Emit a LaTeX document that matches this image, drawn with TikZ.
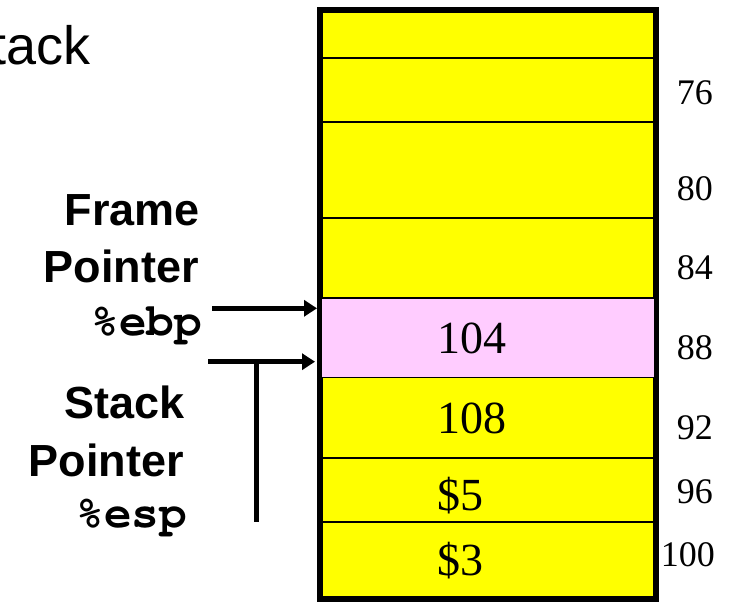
\documentclass[tikz,border=0pt]{standalone}
\usepackage{fontspec}
\setmainfont{Liberation Serif}
\newfontfamily\arialfont{Liberation Sans}
\newfontfamily\courfont{TeX Gyre Cursor}
\usetikzlibrary{arrows.meta}
\definecolor{stackyellow}{RGB}{255,255,0}
\definecolor{stackpink}{RGB}{255,204,255}
\tikzset{
  thinline/.style={line width=1.7pt},
  outerbox/.style={line width=6pt},
  cellval/.style={inner sep=0pt, anchor=base west, font=\fontsize{46}{46}\selectfont},
  addr/.style={inner sep=0pt, anchor=base east, font=\fontsize{36}{36}\selectfont},
  lbl/.style={inner sep=0pt, anchor=base east, font=\arialfont\bfseries\fontsize{45}{45}\selectfont},
  reglbl/.style={inner sep=0pt, anchor=base east, font=\courfont\bfseries\fontsize{46}{46}\selectfont},
  ptrarrow/.style={line width=5pt, -{Triangle[length=13pt,width=16pt]}},
  ptrline/.style={line width=5pt},
}
\begin{document}
\begin{tikzpicture}[x=1pt,y=-1pt]
\useasboundingbox (0,0) rectangle (731,602);
% title (cut off)
\node[inner sep=0pt, anchor=base east, font=\arialfont\fontsize{54}{54}\selectfont] (title) at (91,65) {Stack};
% stack body
\fill[stackyellow] (320,10) rectangle (656,599);
\foreach \yy in {57.7,121.7,217.7,458.3,522.3}
  \draw[thinline] (320,\yy) -- (656,\yy);
\draw[outerbox] (320,10) rectangle (656,599);
\node[draw, thinline, fill=stackpink, inner sep=0pt, outer sep=0pt, minimum width=333pt, minimum height=79.6pt, anchor=north west] (ebpcell) at (321.5,297.8) {};
% cell values
\node[cellval] (v104) at (437,353.3) {104};
\node[cellval] (v108) at (437,433.3) {108};
\node[cellval] (v5) at (437,510) {\$5};
\node[cellval] (v3) at (437,575) {\$3};
% addresses
\node[addr] (a76) at (713,104) {76};
\node[addr] (a80) at (713,200) {80};
\node[addr] (a84) at (713,279.3) {84};
\node[addr] (a88) at (713,359.3) {88};
\node[addr] (a92) at (713,439.3) {92};
\node[addr] (a96) at (713,503.3) {96};
\node[addr] (a100) at (715,566.7) {100};
% labels
\node[lbl] (fp1) at (200,225) {Frame};
\node[lbl] (fp2) at (199,282) {Pointer};
\node[reglbl] (ebp) at (202,335) {\%ebp};
\node[lbl] (sp1) at (185,418) {Stack};
\node[lbl] (sp2) at (184,476) {Pointer};
\node[reglbl] (esp) at (187,527) {\%esp};
% arrows
\coordinate (ebptail) at (212,308.3);
\coordinate (ebphead) at (317,308.3);
\coordinate (esptail) at (208,361.7);
\coordinate (esphead) at (315,361.7);
\coordinate (stemtop) at (256,361.7);
\coordinate (stembot) at (256,522);
\draw[ptrarrow] (ebptail) -- (ebphead);
\draw[ptrarrow] (esptail) -- (esphead);
\draw[ptrline] (stemtop) -- (stembot);
\end{tikzpicture}
\end{document}
